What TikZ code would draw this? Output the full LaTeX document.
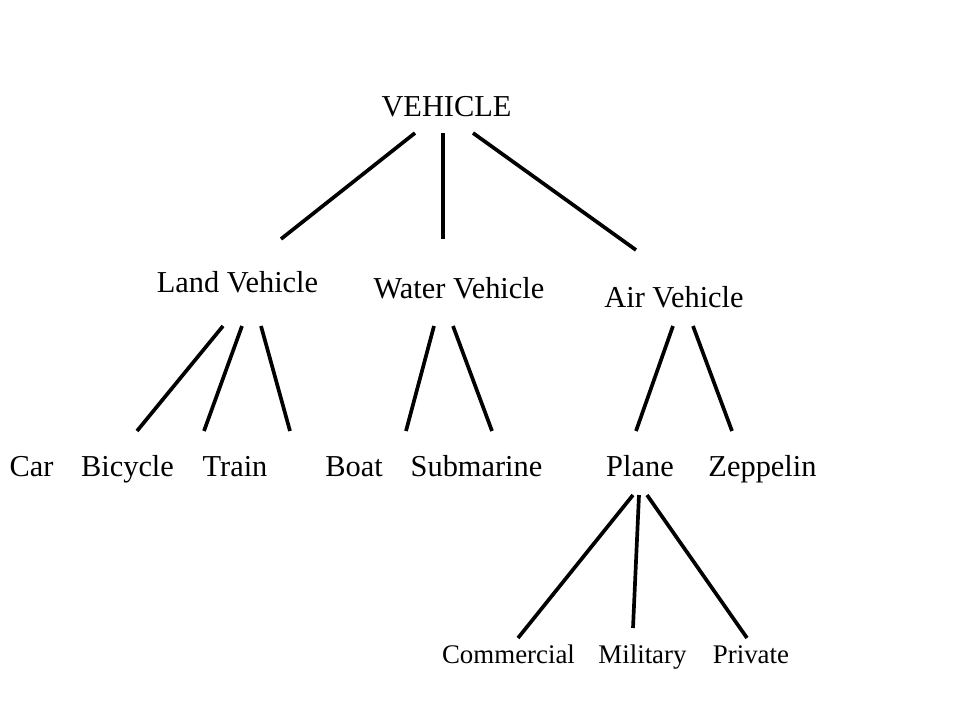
\documentclass[tikz,border=0pt]{standalone}
\usepackage{fontspec}
\setmainfont{Liberation Serif}
\tikzset{
  lbl/.style={anchor=base,inner sep=0pt,font=\fontsize{17.3}{20}\selectfont},
  sublbl/.style={anchor=base,inner sep=0pt,font=\fontsize{15.3}{18}\selectfont},
  branch/.style={line width=2.1pt}
}
\begin{document}
\begin{tikzpicture}[x=0.02cm,y=-0.02cm]
\useasboundingbox (0,0) rectangle (960,720);

\node[lbl] (veh)   at (446.5,116) {VEHICLE};

\node[lbl] (land)  at (237.5,292) {Land Vehicle};
\node[lbl] (water) at (459,298)   {Water Vehicle};
\node[lbl] (air)   at (674,307)   {Air Vehicle};

\node[lbl] (car)   at (31.5,476)  {Car};
\node[lbl] (bike)  at (127.5,476) {Bicycle};
\node[lbl] (train) at (235,476)   {Train};
\node[lbl] (boat)  at (354,476)   {Boat};
\node[lbl] (sub)   at (476.5,476) {Submarine};
\node[lbl] (plane) at (640,476)   {Plane};
\node[lbl] (zep)   at (762.5,476) {Zeppelin};

\node[sublbl] (comm) at (508.5,663) {Commercial};
\node[sublbl] (mil)  at (642.5,663) {Military};
\node[sublbl] (priv) at (751,663)   {Private};

% top level
\draw[branch] ([shift={(-31.5,17)}]veh.base) -- ([shift={(43.5,-53)}]land.base);
\draw[branch] ([shift={(-3.5,17)}]veh.base)  -- ([shift={(-16,-59)}]water.base);
\draw[branch] ([shift={(26.5,17)}]veh.base)  -- ([shift={(-38,-57)}]air.base);

% land
\draw[branch] ([shift={(-14.5,34)}]land.base) -- ([shift={(105.5,-45)}]car.base);
\draw[branch] ([shift={(4.5,34)}]land.base)   -- ([shift={(76.5,-45)}]bike.base);
\draw[branch] ([shift={(23.5,34)}]land.base)  -- ([shift={(55,-45)}]train.base);

% water
\draw[branch] ([shift={(-25,28)}]water.base) -- ([shift={(52,-45)}]boat.base);
\draw[branch] ([shift={(-6,28)}]water.base)  -- ([shift={(15.5,-45)}]sub.base);

% air
\draw[branch] ([shift={(-1,19)}]air.base) -- ([shift={(-4,-45)}]plane.base);
\draw[branch] ([shift={(19,19)}]air.base) -- ([shift={(-30.5,-45)}]zep.base);

% plane
\draw[branch] ([shift={(-7,19)}]plane.base) -- ([shift={(9.5,-25)}]comm.base);
\draw[branch] ([shift={(-1,19)}]plane.base) -- ([shift={(-9.5,-35)}]mil.base);
\draw[branch] ([shift={(7,19)}]plane.base)  -- ([shift={(-4,-25)}]priv.base);
\end{tikzpicture}
\end{document}
